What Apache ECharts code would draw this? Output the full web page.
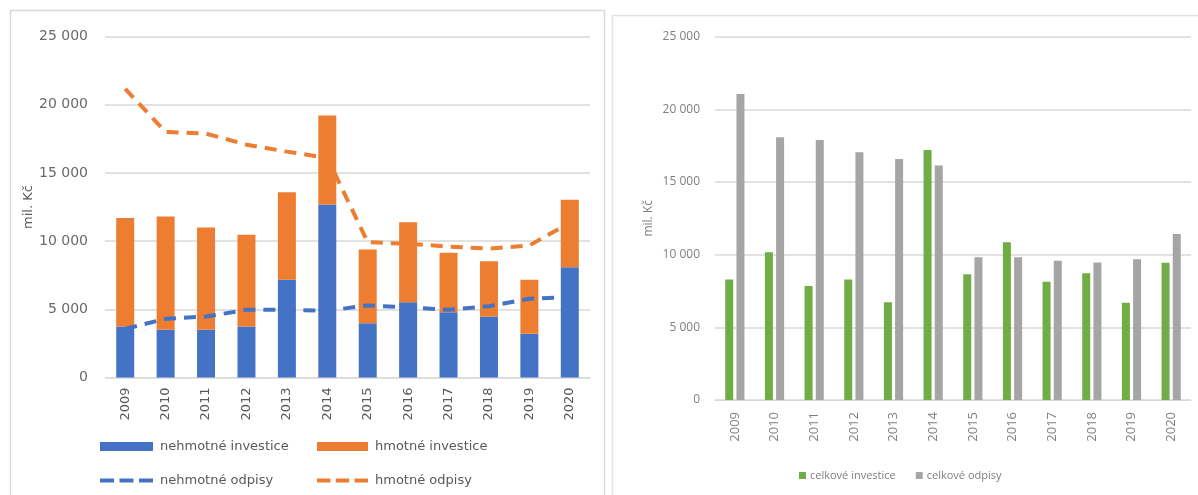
<!DOCTYPE html>
<html>
<head>
<meta charset="utf-8">
<script src="https://cdn.jsdelivr.net/npm/echarts@6/dist/echarts.min.js"></script>
<style>
  html, body { margin: 0; padding: 0; background: #ffffff; }
  #chart { width: 1198px; height: 495px; }
</style>
</head>
<body>
<div id="chart"></div>
<script>
// Years shared by both panels
const years = ['2009', '2010', '2011', '2012', '2013', '2014', '2015', '2016', '2017', '2018', '2019', '2020'];

// Left panel: investments (stacked bars) and depreciation (stacked dashed lines), mil. Kč
const nehmotneInvestice = [3740, 3500, 3500, 3740, 7160, 12680, 3980, 5520, 4790, 4470, 3200, 8090];
const hmotneInvestice   = [7960, 8300, 7500, 6720, 6420, 6520, 5400, 5870, 4350, 4060, 3960, 4940];
const nehmotneOdpisy    = [3570, 4300, 4470, 4960, 4960, 4900, 5280, 5150, 4960, 5230, 5770, 5890];
const hmotneOdpisy      = [17590, 13700, 13410, 12110, 11600, 11200, 4640, 4650, 4640, 4220, 3910, 5450];

// Right panel: totals, mil. Kč
const celkoveInvestice = [8300, 10160, 7850, 8300, 6720, 17200, 8650, 10850, 8140, 8720, 6700, 9450];
const celkoveOdpisy    = [21060, 18080, 17890, 17050, 16590, 16130, 9820, 9820, 9590, 9470, 9680, 11420];

// Y axis ticks
const yMax = 25000;
const yStep = 5000;

const fmt = v => String(v).replace(/\B(?=(\d{3})+(?!\d))/g, '\u00a0');

const BLUE = '#4472C4', ORANGE = '#ED7D31', GREEN = '#70AD47', GRAY = '#A5A5A5';
const leftFont = 'DejaVu Sans';
const rightFont = 'Open Sans';

// three-dash legend key for the dashed lines
const DASH_ICON = 'path://M0,0h14v4h-14z M19.5,0h14v4h-14z M39,0h14v4h-14z';

const chart = echarts.init(document.getElementById('chart'), null, { renderer: 'canvas' });

function legendItem(name, left, top, w, h, icon) {
  return {
    data: [{ name: name, icon: icon }], left: left, top: top, itemWidth: w, itemHeight: h,
    itemGap: 0, padding: 0, selectedMode: false,
    textStyle: { fontFamily: leftFont, fontSize: 13, color: '#595959', padding: [0, 0, 0, 2] }
  };
}

chart.setOption({
  backgroundColor: '#ffffff',
  animation: false,
  graphic: [
    { type: 'rect', shape: { x: 10.5, y: 10.5, width: 594, height: 500 },
      style: { fill: 'none', stroke: '#d9d9d9', lineWidth: 1.5 }, z: -10 },
    { type: 'rect', shape: { x: 612.5, y: 15.5, width: 600, height: 500 },
      style: { fill: 'none', stroke: '#e3e3e3', lineWidth: 1.5 }, z: -10 }
  ],
  legend: [
    legendItem('nehmotné investice', 100, 440, 53, 9, 'rect'),
    legendItem('hmotné investice', 317, 440, 51, 9, 'rect'),
    legendItem('nehmotné odpisy', 100, 474, 53, 4, DASH_ICON),
    legendItem('hmotné odpisy', 317, 474, 51, 4, DASH_ICON),
    {
      data: ['celkové investice', 'celkové odpisy'],
      left: 799, top: 470, itemWidth: 7, itemHeight: 7, itemGap: 20, padding: 0,
      selectedMode: false, icon: 'rect',
      textStyle: { fontFamily: rightFont, fontSize: 11, color: '#7f7f7f', padding: [0, 0, 0, -1] }
    }
  ],
  grid: [
    { left: 105, top: 36.5, width: 485, height: 341 },
    { left: 715, top: 36.7, width: 476, height: 363.3 }
  ],
  xAxis: [
    {
      type: 'category', gridIndex: 0, data: years,
      axisTick: { show: false },
      axisLine: { lineStyle: { color: '#d9d9d9' } },
      axisLabel: { rotate: 90, margin: 10, fontFamily: leftFont, fontSize: 13, color: '#595959' }
    },
    {
      type: 'category', gridIndex: 1, data: years,
      axisTick: { show: false },
      axisLine: { lineStyle: { color: '#d9d9d9' } },
      axisLabel: { rotate: 90, margin: 12, fontFamily: rightFont, fontSize: 13, color: '#7f7f7f' }
    }
  ],
  yAxis: [
    {
      type: 'value', gridIndex: 0, min: 0, max: yMax, interval: yStep,
      name: 'mil. Kč', nameLocation: 'middle', nameGap: 62,
      nameTextStyle: { fontFamily: leftFont, fontSize: 13, color: '#595959' },
      axisLine: { show: false }, axisTick: { show: false },
      axisLabel: { margin: 17, fontFamily: leftFont, fontSize: 14, color: '#6a6a6a', formatter: fmt },
      splitLine: { lineStyle: { color: '#d9d9d9', width: 1.5 } }
    },
    {
      type: 'value', gridIndex: 1, min: 0, max: yMax, interval: yStep,
      name: 'mil. Kč', nameLocation: 'middle', nameGap: 60,
      nameTextStyle: { fontFamily: rightFont, fontSize: 12, color: '#7f7f7f' },
      axisLine: { show: false }, axisTick: { show: false },
      axisLabel: { margin: 15, fontFamily: rightFont, fontSize: 12, color: '#7f7f7f', formatter: fmt },
      splitLine: { lineStyle: { color: '#d9d9d9', width: 1.5 } }
    }
  ],
  series: [
    {
      name: 'nehmotné investice', type: 'bar', stack: 'investice',
      xAxisIndex: 0, yAxisIndex: 0, barWidth: 18,
      itemStyle: { color: BLUE }, data: nehmotneInvestice
    },
    {
      name: 'hmotné investice', type: 'bar', stack: 'investice',
      xAxisIndex: 0, yAxisIndex: 0, barWidth: 18,
      itemStyle: { color: ORANGE }, data: hmotneInvestice
    },
    {
      name: 'nehmotné odpisy', type: 'line', stack: 'odpisy',
      xAxisIndex: 0, yAxisIndex: 0, symbol: 'none', z: 5,
      lineStyle: { color: BLUE, width: 4, type: [12, 8], cap: 'butt' },
      itemStyle: { color: BLUE }, data: nehmotneOdpisy
    },
    {
      name: 'hmotné odpisy', type: 'line', stack: 'odpisy',
      xAxisIndex: 0, yAxisIndex: 0, symbol: 'none', z: 5,
      lineStyle: { color: ORANGE, width: 4, type: [12, 8], cap: 'butt' },
      itemStyle: { color: ORANGE }, data: hmotneOdpisy
    },
    {
      name: 'celkové investice', type: 'bar',
      xAxisIndex: 1, yAxisIndex: 1, barWidth: 8, barGap: '40%',
      itemStyle: { color: GREEN }, data: celkoveInvestice
    },
    {
      name: 'celkové odpisy', type: 'bar',
      xAxisIndex: 1, yAxisIndex: 1, barWidth: 8, barGap: '40%',
      itemStyle: { color: GRAY }, data: celkoveOdpisy
    }
  ]
});
</script>
</body>
</html>
